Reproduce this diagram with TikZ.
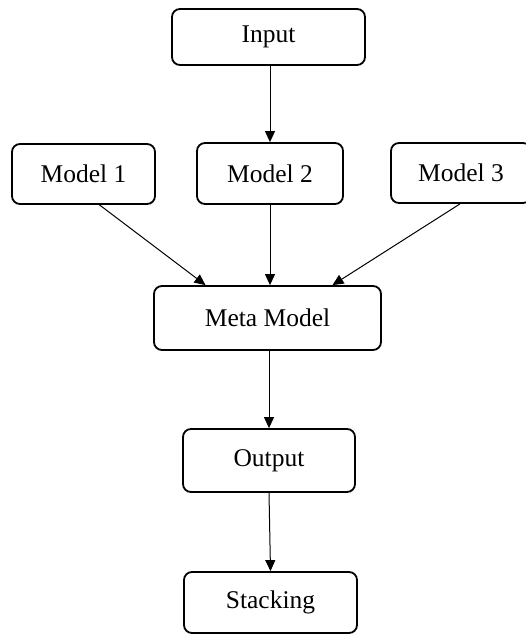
\documentclass[tikz,border=0pt]{standalone}
\usepackage{fontspec}
\setmainfont{Liberation Serif}
\usetikzlibrary{arrows.meta}
\begin{document}
\begin{tikzpicture}[x=1pt,y=-1pt,
  box/.style={draw, line width=1.8pt, rounded corners=8pt, inner sep=0pt, align=center,
    font=\fontsize{25.5}{30}\selectfont},
  conn/.style={line width=1pt, -{Triangle[length=11pt,width=10pt]}}]
\useasboundingbox (0,0) rectangle (526,636);
\node[box, minimum width=193pt, minimum height=56pt] (in) at (268.5,37) {Input};
\node[box, minimum width=143pt, minimum height=60pt] (m1) at (83.5,174) {Model 1};
\node[box, minimum width=146pt, minimum height=61pt] (m2) at (270,173.5) {Model 2};
\node[box, minimum width=140pt, minimum height=60pt] (m3) at (461,173) {Model 3};
\node[box, minimum width=227pt, minimum height=64pt] (meta) at (267.5,318) {Meta Model};
\node[box, minimum width=172pt, minimum height=63pt] (out) at (269,460.5) {Output};
\node[box, minimum width=173pt, minimum height=61pt] (st) at (270.5,602.5) {Stacking};
\draw[conn] (in.south -| m2.south) -- (m2.north);
\draw[conn] ([xshift=16pt]m1.south) -- ([xshift=-62pt]meta.north);
\draw[conn] (m2.south) -- (meta.north -| m2.south);
\draw[conn] ([xshift=-1pt]m3.south) -- ([xshift=65pt]meta.north);
\draw[conn] (meta.south -| out.south) -- (out.north);
\draw[conn] (out.south) -- (st.north);
\end{tikzpicture}
\end{document}
